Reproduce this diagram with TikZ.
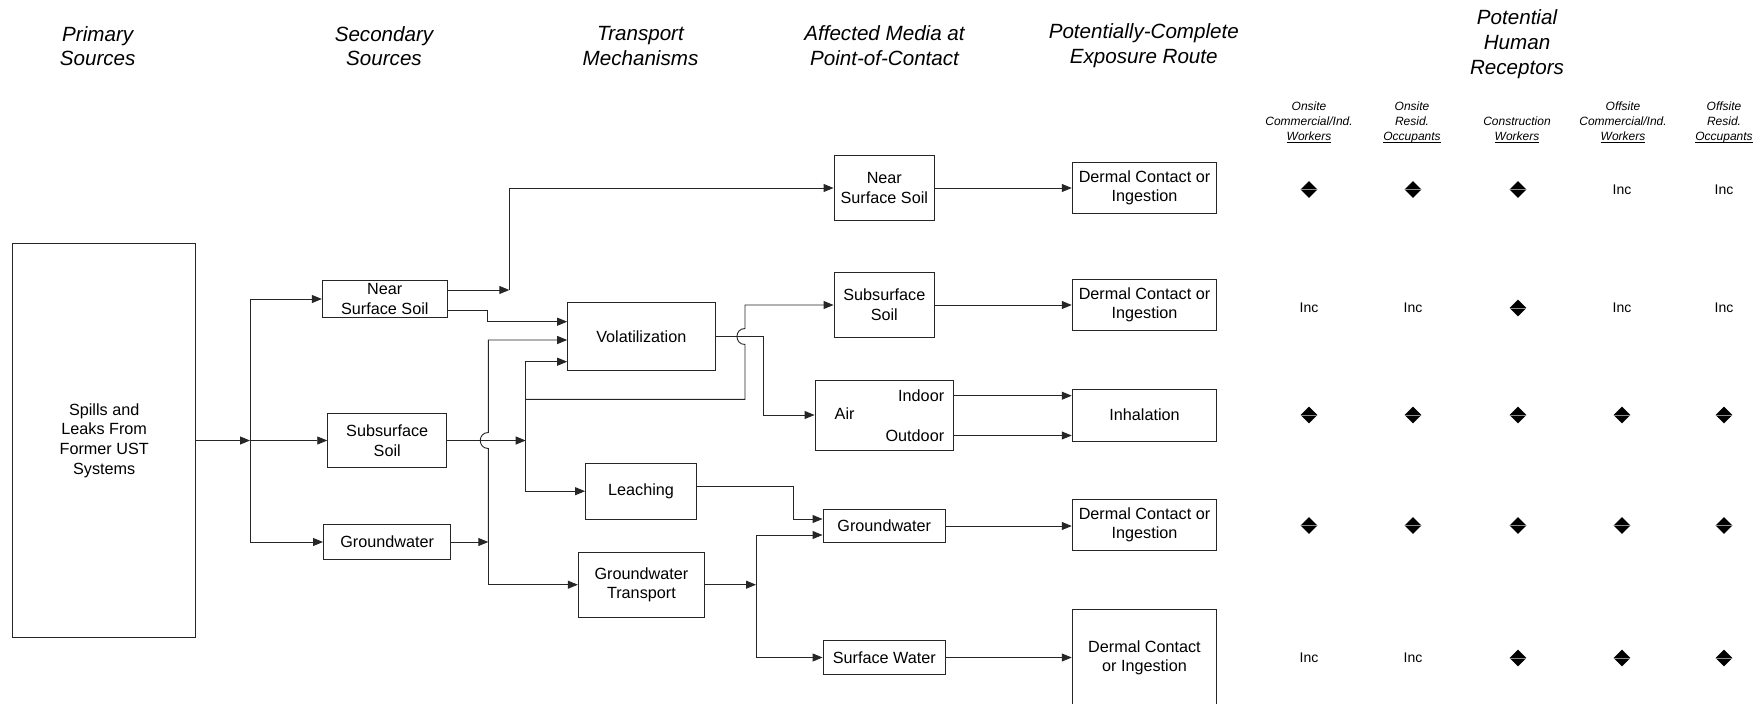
\documentclass[tikz,border=0pt]{standalone}
\usepackage{fontspec}
\setmainfont{Liberation Sans}
\usetikzlibrary{arrows.meta,shapes.geometric}
\newcommand{\recul}[1]{\setbox0\hbox{#1}\rlap{\rule[-2.2pt]{\wd0}{0.6pt}}\box0}

\begin{document}
\begin{tikzpicture}[x=1pt,y=-1pt,line width=0.9pt,
  box/.style={draw=black!85, rectangle, inner sep=0pt, align=center, font=\fontsize{16.2}{19.6}\selectfont},
  lbl/.style={inner sep=0pt, font=\fontsize{16.2}{19.6}\selectfont},
  head/.style={align=center, inner sep=0pt, font=\fontsize{20.6}{24.7}\selectfont\itshape},
  rechead/.style={align=center, inner sep=0pt, font=\fontsize{12}{14.8}\selectfont\itshape},
  inc/.style={inner sep=0pt, font=\fontsize{14}{16}\selectfont},
  yes/.style={diamond, fill=black, inner sep=0pt, minimum width=17pt, minimum height=17pt,
    path picture={\draw[black!45, line width=0.5pt] (path picture bounding box.west) -- (path picture bounding box.east);}},
  arr/.style={draw=black!85, -{Triangle[length=10pt,width=8pt]}}]
  \useasboundingbox (0,0) rectangle (1759,704);

  \node[head] (hprim) at (97.7,46) {Primary\\Sources};
  \node[head] (hsec) at (384,46) {Secondary\\Sources};
  \node[head] (htra) at (640.5,46) {Transport\\Mechanisms};
  \node[head] (hmed) at (884.5,45.5) {Affected Media at\\Point-of-Contact};
  \node[head] (hexp) at (1143.8,45.5) {Potentially-Complete\\Exposure Route};
  \node[head] (hrec) at (1517,44) {Potential\\Human\\Receptors};

  \node[box, minimum width=183pt, minimum height=394pt] (prim) at (104.2,440.5) {Spills and\\Leaks From\\Former UST\\Systems};

  \node[box, minimum width=125pt, minimum height=37.4pt] (nss) at (384.8,299) {Near\\Surface Soil};
  \node[box, minimum width=119pt, minimum height=53.7pt] (subs) at (387.2,440.5) {Subsurface\\Soil};
  \node[box, minimum width=127.3pt, minimum height=35pt] (gws) at (387.1,542) {Groundwater};

  \node[box, minimum width=147.3pt, minimum height=67.7pt] (vol) at (641.3,336.5) {Volatilization};
  \node[box, minimum width=111pt, minimum height=55.7pt] (leach) at (641,491.2) {Leaching};
  \node[box, minimum width=126.2pt, minimum height=64.7pt] (gwt) at (641.4,584.7) {Groundwater\\Transport};

  \node[box, minimum width=100.6pt, minimum height=65.3pt] (nssA) at (884.3,188) {Near\\Surface Soil};
  \node[box, minimum width=100.6pt, minimum height=65pt] (subsA) at (884.3,305) {Subsurface\\Soil};
  \node[box, minimum width=138.6pt, minimum height=70pt] (air) at (884.3,415) {};
  \node[lbl] (airlbl) at (844.6,413.3) {Air};
  \node[lbl, anchor=east] (indoor) at (944.6,395.7) {Indoor};
  \node[lbl, anchor=east] (outdoor) at (944.6,435.5) {Outdoor};
  \node[box, minimum width=122.6pt, minimum height=33.4pt] (gwA) at (884.3,526) {Groundwater};
  \node[box, minimum width=122.6pt, minimum height=33.4pt] (swA) at (884.3,657.5) {Surface Water};

  \node[box, minimum width=144.6pt, minimum height=51.4pt] (der1) at (1144.5,188) {Dermal Contact or\\Ingestion};
  \node[box, minimum width=144.6pt, minimum height=51.4pt] (der2) at (1144.5,305) {Dermal Contact or\\Ingestion};
  \node[box, minimum width=144.6pt, minimum height=51.7pt] (inh) at (1144.5,415.2) {Inhalation};
  \node[box, minimum width=144.6pt, minimum height=51.6pt] (der4) at (1144.5,525) {Dermal Contact or\\Ingestion};
  \node[box, minimum width=144.6pt, minimum height=97pt] (der5) at (1144.5,657.8) {Dermal Contact\\or Ingestion};

  \coordinate (j0) at (250,440.5);
  \coordinate (j1) at (509.3,290);
  \coordinate (j2) at (525.7,440.5);
  \coordinate (j3) at (488.3,542);
  \coordinate (j4) at (756,584.7);
  \coordinate (j5) at (525.7,399.3);

  \draw[arr] (prim.east) -- (j0);
  \draw[arr] (j0) -- (subs.west);
  \draw[arr] (j0) |- (nss.west);
  \draw[arr] (j0) |- (gws.west);

  \draw[arr] (nss.east |- j1) -- (j1);
  \draw[arr] (j1) |- (nssA.west);
  \draw[arr] ([yshift=-11pt]nss.east) -- ++(40,0) |- ([yshift=14.8pt]vol.west);

  \draw[arr] (gws.east) -- (j3);
  \draw[arr] (j3) -- (488.3,448.5) .. controls (477.6,448.5) and (477.6,432.5) .. (488.3,432.5) |- ([yshift=-3.5pt]vol.west);
  \draw[arr] (j3) |- (gwt.west);

  \draw[arr] (subs.east) -- (j2);
  \draw[arr] (j2) |- ([yshift=-25.2pt]vol.west);
  \draw[arr] (j2) |- (leach.west);
  \draw[arr] (j5) -- (745,399.3) -- (745,344.5) .. controls (734.3,344.5) and (734.3,328.5) .. (745,328.5) |- (subsA.west);

  \draw[arr] (vol.east) -- (763.2,336.5) |- (air.west);
  \draw[arr] ([yshift=4.5pt]leach.east) -- ++(96.8,0) |- ([yshift=7pt]gwA.west);

  \draw[arr] (gwt.east) -- (j4);
  \draw[arr] (j4) |- ([yshift=-9pt]gwA.west);
  \draw[arr] (j4) |- (swA.west);

  \draw[arr] (nssA.east) -- (nssA.east -| der1.west);
  \draw[arr] (subsA.east) -- (subsA.east -| der2.west);
  \draw[arr] (indoor.east -| air.east) -- (indoor.east -| inh.west);
  \draw[arr] (outdoor.east -| air.east) -- (outdoor.east -| inh.west);
  \draw[arr] (gwA.east) -- (gwA.east -| der4.west);
  \draw[arr] (swA.east) -- (swA.east -| der5.west);

  \node[rechead] (rc1) at (1309,122.5) {Onsite\\Commercial/Ind.\\\recul{Workers}};
  \node[rechead] (rc2) at (1412,122.5) {Onsite\\Resid.\\\recul{Occupants}};
  \node[rechead] (rc3) at (1517,130) {Construction\\\recul{Workers}};
  \node[rechead] (rc4) at (1623,122.5) {Offsite\\Commercial/Ind.\\\recul{Workers}};
  \node[rechead] (rc5) at (1724,122.5) {Offsite\\Resid.\\\recul{Occupants}};

  \node[yes] (r11) at (1309,189.5) {}; \node[yes] (r12) at (1413,189.5) {}; \node[yes] (r13) at (1518,189.5) {}; \node[inc] (r14) at (1622,189.5) {Inc}; \node[inc] (r15) at (1724,189.5) {Inc};
  \node[inc] (r21) at (1309,308) {Inc}; \node[inc] (r22) at (1413,308) {Inc}; \node[yes] (r23) at (1518,308) {}; \node[inc] (r24) at (1622,308) {Inc}; \node[inc] (r25) at (1724,308) {Inc};
  \node[yes] (r31) at (1309,415) {}; \node[yes] (r32) at (1413,415) {}; \node[yes] (r33) at (1518,415) {}; \node[yes] (r34) at (1622,415) {}; \node[yes] (r35) at (1724,415) {};
  \node[yes] (r41) at (1309,525.5) {}; \node[yes] (r42) at (1413,525.5) {}; \node[yes] (r43) at (1518,525.5) {}; \node[yes] (r44) at (1622,525.5) {}; \node[yes] (r45) at (1724,525.5) {};
  \node[inc] (r51) at (1309,658) {Inc}; \node[inc] (r52) at (1413,658) {Inc}; \node[yes] (r53) at (1518,658) {}; \node[yes] (r54) at (1622,658) {}; \node[yes] (r55) at (1724,658) {};
\end{tikzpicture}
\end{document}
